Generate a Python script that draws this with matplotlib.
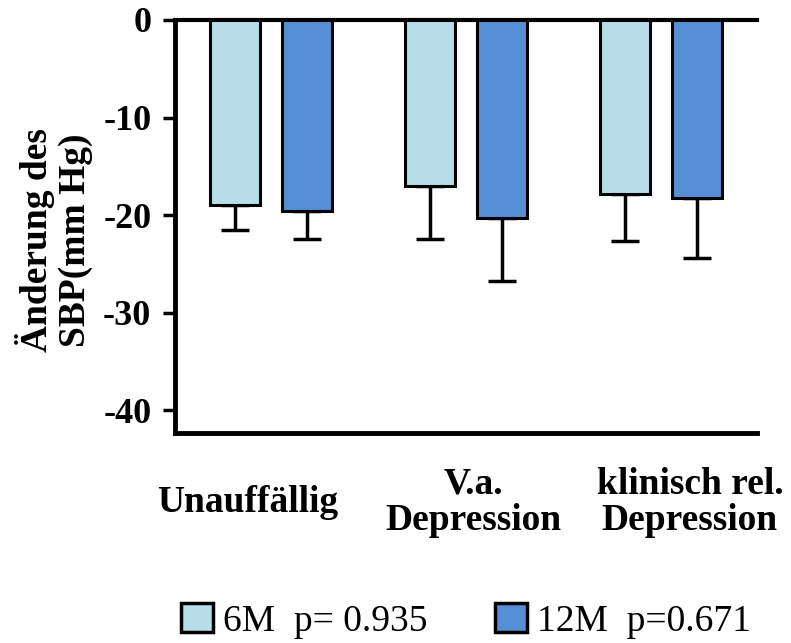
"""Change in SBP after 6 and 12 months by depression group, bar chart."""

import matplotlib

matplotlib.use("Agg")
import matplotlib.pyplot as plt
import matplotlib.transforms as mtransforms
import numpy as np
from matplotlib.patches import Patch

plt.rcParams["font.family"] = ["Liberation Serif", "DejaVu Serif"]

groups = ["Unauffällig", "V.a.\nDepression", "klinisch rel.\nDepression"]
series = ["6M  p= 0.935", "12M  p=0.671"]
mean_6m = [-19.0, -17.0, -17.8]
err_6m = [2.5, 5.4, 4.9]
mean_12m = [-19.6, -20.3, -18.2]
err_12m = [2.8, 6.5, 6.2]
yticks = [0, -10, -20, -30, -40]

LIGHT = "#B7DEE8"
DARK = "#558ED5"


def main() -> None:
    fig = plt.figure(figsize=(7.91, 6.43), dpi=100)
    ax = fig.add_axes([0.2212, 0.327, 0.7358, 0.6419])

    x = np.arange(len(groups))
    off = 0.186
    width = 0.256
    for xs, means, errs, color in [
        (x - off, mean_6m, err_6m, LIGHT),
        (x + off, mean_12m, err_12m, DARK),
    ]:
        ax.bar(xs, means, width, color=color, edgecolor="black", linewidth=2.2, zorder=3)
        ax.errorbar(xs, means, yerr=[errs, np.zeros(len(errs))], fmt="none",
                    ecolor="black", elinewidth=2.5, capsize=10, capthick=2.5, zorder=2)

    ax.set_xlim(-0.492, 2.493)
    ax.set_ylim(-42.3, 0)
    ax.set_yticks(yticks)
    ax.set_yticklabels([str(v) for v in yticks], fontsize=26, fontweight="bold")
    ax.tick_params(axis="y", length=9, width=2.5, pad=8, direction="out")

    ax.set_xticks(x)
    ax.set_xticklabels(groups, fontsize=27, fontweight="bold", va="center",
                       linespacing=1.05)
    ax.tick_params(axis="x", length=0, pad=50)
    shifts = [-23, 8, 29]
    for lab, dx in zip(ax.get_xticklabels(), shifts):
        lab.set_transform(lab.get_transform()
                          + mtransforms.ScaledTranslation(dx / 100, 0, fig.dpi_scale_trans))

    for side in ["left", "bottom"]:
        ax.spines[side].set_linewidth(3.5)
    ax.spines["top"].set_linewidth(3.0)
    ax.spines["right"].set_visible(False)

    ax.set_ylabel("Änderung des\nSBP(mm Hg)", fontsize=27, fontweight="bold",
                  linespacing=1.12)
    ax.yaxis.set_label_coords(-0.141, 0.467)

    handles = [Patch(facecolor=LIGHT, edgecolor="black", linewidth=2.5),
               Patch(facecolor=DARK, edgecolor="black", linewidth=2.5)]
    ax.legend(handles, series, loc="center", bbox_to_anchor=(0.5, -0.455),
              ncol=2, frameon=False, fontsize=27, handlelength=0.85,
              handleheight=0.85, handletextpad=0.27, columnspacing=1.8)

    fig.savefig("out.png", dpi=100)


if __name__ == "__main__":
    main()
